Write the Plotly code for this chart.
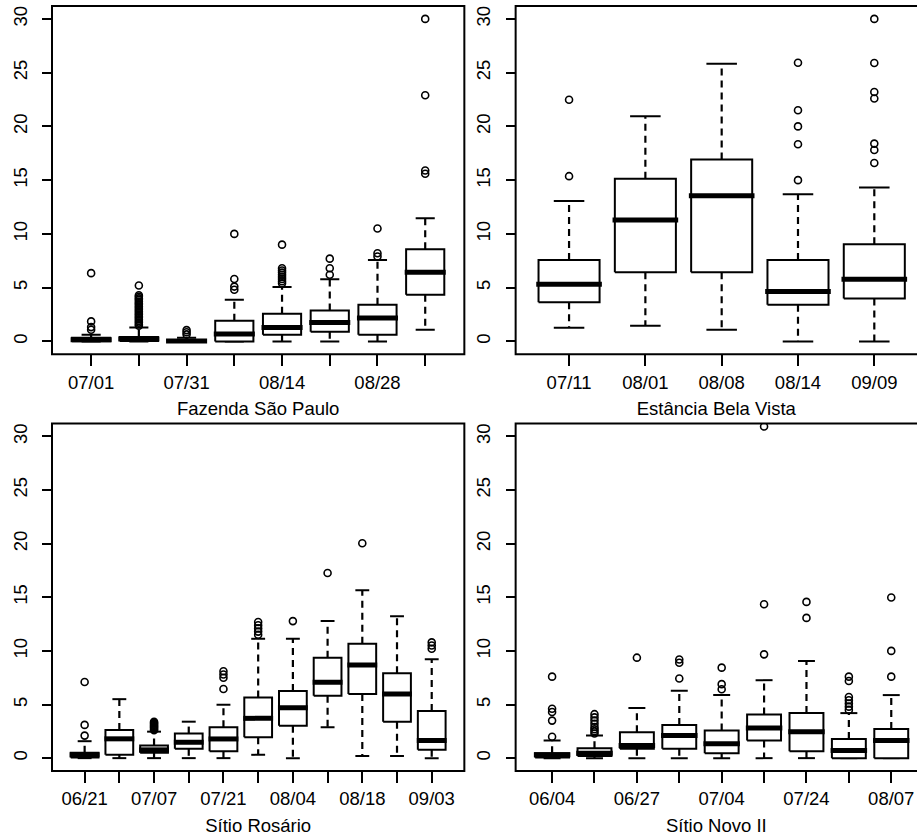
import plotly.graph_objects as go

FONT = "Liberation Sans, Arial, Helvetica, sans-serif"

# ---------------- data ----------------
# Panel 1: Fazenda São Paulo
fsp_title = "Fazenda São Paulo"
fsp_labels = ["07/01", "", "07/31", "", "08/14", "", "08/28", ""]
fsp_low = [0, 0, 0, 0, 0, 0, 0, 1.08]
fsp_q1 = [0.02, 0.03, 0.0, 0.0, 0.62, 0.9, 0.62, 4.33]
fsp_med = [0.16, 0.22, 0.04, 0.68, 1.3, 1.76, 2.17, 6.44]
fsp_q3 = [0.35, 0.42, 0.12, 1.92, 2.57, 2.88, 3.4, 8.57]
fsp_high = [0.62, 1.3, 0.35, 3.87, 5.05, 5.79, 7.58, 11.45]
fsp_out = [
    [1.08, 1.33, 1.86, 6.35],
    [1.45, 1.6, 1.75, 1.9, 2.05, 2.2, 2.35, 2.5, 2.65, 2.8, 2.95, 3.1, 3.25,
     3.4, 3.55, 3.7, 3.87, 4.0, 4.15, 4.3, 5.2],
    [0.65, 0.85, 1.05],
    [4.8, 5.1, 5.8, 10.0],
    [5.4, 5.6, 5.8, 6.0, 6.2, 6.4, 6.6, 6.8, 9.0],
    [6.2, 6.8, 7.7],
    [7.9, 8.2, 10.5],
    [15.6, 15.9, 22.9, 30.0],
]

# Panel 2: Estância Bela Vista
ebv_title = "Estância Bela Vista"
ebv_labels = ["07/11", "08/01", "08/08", "08/14", "09/09"]
ebv_low = [1.27, 1.46, 1.08, 0, 0]
ebv_q1 = [3.65, 6.44, 6.44, 3.4, 3.99]
ebv_med = [5.32, 11.29, 13.55, 4.64, 5.79]
ebv_q3 = [7.58, 15.12, 16.92, 7.58, 9.03]
ebv_high = [13.05, 20.94, 25.83, 13.7, 14.32]
ebv_out = [
    [15.37, 22.48],
    [],
    [],
    [15.0, 18.34, 20.0, 21.5, 25.92],
    [16.6, 17.8, 18.4, 22.6, 23.2, 25.9, 30.0],
]

# Panel 3: Sítio Rosário
sr_title = "Sítio Rosário"
sr_labels = ["06/21", "", "07/07", "", "07/21", "", "08/04", "", "08/18", "", "09/03"]
sr_low = [0, 0, 0, 0, 0, 0.31, 0, 2.88, 0.19, 0.19, 0]
sr_q1 = [0.05, 0.31, 0.5, 0.87, 0.65, 1.95, 3.03, 5.82, 5.97, 3.4, 0.77]
sr_med = [0.31, 1.8, 0.77, 1.48, 1.79, 3.71, 4.7, 7.08, 8.69, 5.97, 1.64]
sr_q3 = [0.5, 2.63, 1.18, 2.29, 2.88, 5.66, 6.25, 9.37, 10.67, 7.92, 4.39]
sr_high = [1.58, 5.5, 2.47, 3.4, 4.98, 11.13, 11.13, 12.78, 15.65, 13.23, 9.22]
sr_out = [
    [2.1, 3.1, 7.1],
    [],
    [2.6, 2.7, 2.8, 2.9, 3.0, 3.1, 3.2, 3.3, 3.4],
    [],
    [6.45, 7.5, 7.8, 8.1],
    [11.5, 11.8, 12.1, 12.4, 12.7],
    [12.78],
    [17.26],
    [20.04],
    [],
    [10.2, 10.5, 10.8],
]

# Panel 4: Sítio Novo II
sn_title = "Sítio Novo II"
sn_labels = ["06/04", "", "06/27", "", "07/04", "", "07/24", "", "08/07"]
sn_low = [0, 0, 0, 0, 0, 0, 0, 0, 0]
sn_q1 = [0.05, 0.19, 0.87, 0.87, 0.46, 1.64, 0.65, 0.0, 0.0]
sn_med = [0.31, 0.46, 1.18, 2.1, 1.33, 2.81, 2.47, 0.71, 1.64]
sn_q3 = [0.45, 0.93, 2.41, 3.09, 2.57, 4.08, 4.2, 1.79, 2.72]
sn_high = [1.64, 2.1, 4.67, 6.28, 5.88, 7.27, 9.06, 4.2, 5.88]
sn_out = [
    [2.0, 3.5, 4.3, 4.6, 7.6],
    [2.3, 2.5, 2.7, 2.9, 3.2, 3.5, 3.8, 4.1],
    [9.37],
    [7.42, 8.9, 9.2],
    [6.43, 6.9, 8.44],
    [9.68, 14.35, 30.93],
    [13.08, 14.57],
    [4.5, 4.8, 5.1, 5.4, 5.7, 7.2, 7.6],
    [7.6, 10.0, 14.98],
]

y_ticks = [0, 5, 10, 15, 20, 25, 30]
y_limits = [0, 30]

# ---------------- styling / layout constants ----------------
W, H = 917, 838
ML, MR, MT, MB = 52, 0, 6, 67
BOX_HALF = 0.4
CAP_HALF = 0.2
LEFT_DOM = [0.0, 0.4767]
RIGHT_DOM = [0.536, 1.0]
TOP_DOM = [0.5447, 1.0]
BOT_DOM = [0.0, 0.4541]
RIGHT_VISIBLE = 0.974  # fraction of the right-hand panels that fits in the image

panels = [
    (fsp_title, fsp_labels, fsp_low, fsp_q1, fsp_med, fsp_q3, fsp_high, fsp_out, LEFT_DOM, TOP_DOM, False),
    (ebv_title, ebv_labels, ebv_low, ebv_q1, ebv_med, ebv_q3, ebv_high, ebv_out, RIGHT_DOM, TOP_DOM, True),
    (sr_title, sr_labels, sr_low, sr_q1, sr_med, sr_q3, sr_high, sr_out, LEFT_DOM, BOT_DOM, False),
    (sn_title, sn_labels, sn_low, sn_q1, sn_med, sn_q3, sn_high, sn_out, RIGHT_DOM, BOT_DOM, True),
]

fig = go.Figure()
shapes = []
ylo = y_limits[0] - 0.04 * (y_limits[1] - y_limits[0])
yhi = y_limits[1] + 0.04 * (y_limits[1] - y_limits[0])

for k, (title, labels, low, q1, med, q3, high, outs, xdom, ydom, clipped) in enumerate(panels, start=1):
    sfx = "" if k == 1 else str(k)
    xa, ya = "x" + sfx, "y" + sfx
    n = len(labels)
    box_x, box_y, med_x, med_y = [], [], [], []
    wh_x, wh_y, cap_x, cap_y, out_x, out_y = [], [], [], [], [], []
    for i in range(n):
        c = i + 1
        box_x += [c - BOX_HALF, c + BOX_HALF, c + BOX_HALF, c - BOX_HALF, c - BOX_HALF, None]
        box_y += [q1[i], q1[i], q3[i], q3[i], q1[i], None]
        med_x += [c - BOX_HALF - 0.03, c + BOX_HALF + 0.03, None]
        med_y += [med[i], med[i], None]
        wh_x += [c, c, None, c, c, None]
        wh_y += [q3[i], high[i], None, q1[i], low[i], None]
        cap_x += [c - CAP_HALF, c + CAP_HALF, None, c - CAP_HALF, c + CAP_HALF, None]
        cap_y += [high[i], high[i], None, low[i], low[i], None]
        for v in outs[i]:
            out_x.append(c)
            out_y.append(v)
    common = dict(xaxis=xa, yaxis=ya, showlegend=False, hoverinfo="skip")
    fig.add_trace(go.Scatter(x=wh_x, y=wh_y, mode="lines",
                             line=dict(color="black", width=2.2, dash="7px,5px"), **common))
    fig.add_trace(go.Scatter(x=cap_x, y=cap_y, mode="lines",
                             line=dict(color="black", width=2), **common))
    fig.add_trace(go.Scatter(x=box_x, y=box_y, mode="lines", fill="toself", fillcolor="white",
                             line=dict(color="black", width=2), **common))
    fig.add_trace(go.Scatter(x=med_x, y=med_y, mode="lines",
                             line=dict(color="black", width=5), **common))
    fig.add_trace(go.Scatter(x=out_x, y=out_y, mode="markers",
                             marker=dict(symbol="circle-open", size=7, color="black",
                                         line=dict(width=1.6, color="black")),
                             cliponaxis=True, **common))

    r0 = 1 - 0.5 - 0.04 * n
    r1 = n + 0.5 + 0.04 * n
    if clipped:
        r1_vis = r0 + (r1 - r0) * RIGHT_VISIBLE
        frame_x1 = 1.0 / RIGHT_VISIBLE
    else:
        r1_vis = r1
        frame_x1 = 1.0

    xkey = "xaxis" + sfx
    ykey = "yaxis" + sfx
    fig.layout[xkey] = dict(
        domain=xdom, anchor=ya, range=[r0, r1_vis], showgrid=False, zeroline=False,
        showline=False, ticks="outside", ticklen=11, tickwidth=2, tickcolor="black",
        tickmode="array", tickvals=list(range(1, n + 1)), ticktext=labels,
        tickfont=dict(family=FONT, size=18.5, color="black"),
        title=dict(text=title, font=dict(family=FONT, size=18.5, color="black"), standoff=10),
    )
    fig.layout[ykey] = dict(
        domain=ydom, anchor=xa, range=[ylo, yhi], showgrid=False, zeroline=False,
        showline=False, ticks="outside", ticklen=9, tickwidth=2, tickcolor="black",
        tickmode="array", tickvals=y_ticks, ticktext=[str(v) for v in y_ticks],
        tickangle=-90, ticklabelstandoff=8,
        tickfont=dict(family=FONT, size=18.5, color="black"),
    )
    shapes.append(dict(type="rect", xref=xa + " domain", yref=ya + " domain",
                       x0=0, x1=frame_x1, y0=0, y1=1,
                       line=dict(color="black", width=2), fillcolor="rgba(0,0,0,0)",
                       layer="above"))

fig.update_layout(
    width=W, height=H, margin=dict(l=ML, r=MR, t=MT, b=MB),
    paper_bgcolor="white", plot_bgcolor="white", shapes=shapes,
    font=dict(family=FONT, size=18.5, color="black"),
)

fig.write_html("out.html")
